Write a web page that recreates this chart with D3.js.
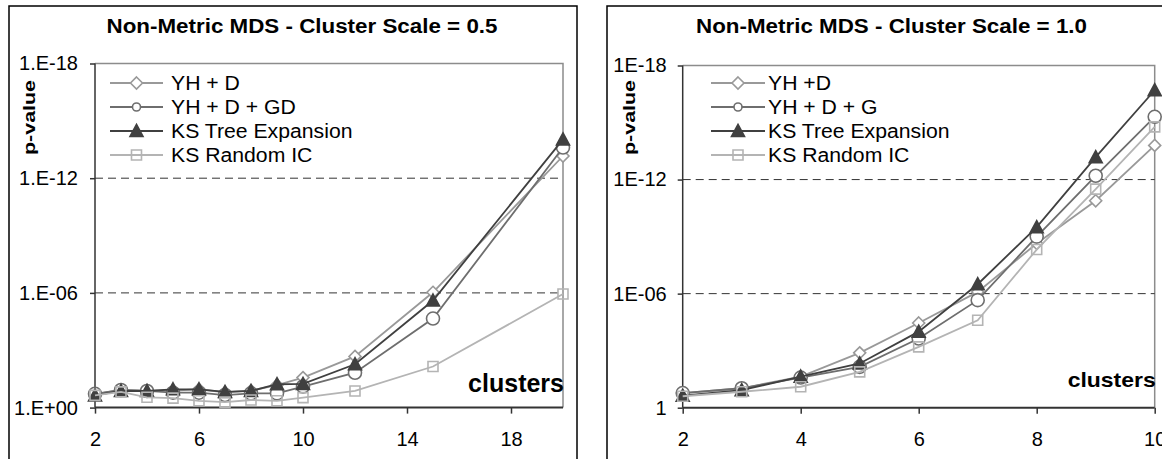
<!DOCTYPE html>
<html>
<head>
<meta charset="utf-8">
<script src="https://cdn.jsdelivr.net/npm/d3@7"></script>
<style>
  body { margin: 0; background: #fff; }
  text { font-family: "Liberation Sans", Arial, sans-serif; fill: #000; }
</style>
</head>
<body>
<svg id="chart"></svg>
<script>
// ---- data (p-values) ----
var leftClusters = [2, 3, 4, 5, 6, 7, 8, 9, 10, 12, 15, 20];
var leftYHD     = [2.0e-1, 1.2e-1, 1.3e-1, 1.3e-1, 1.1e-1, 1.6e-1, 1.3e-1, 6.6e-2, 2.7e-2, 2.1e-3, 9.3e-7, 6.9e-14];
var leftYHDGD   = [1.9e-1, 1.2e-1, 1.35e-1, 1.66e-1, 1.66e-1, 2.2e-1, 1.8e-1, 1.8e-1, 7.9e-2, 1.5e-2, 2.2e-5, 2.5e-14];
var leftKSTree  = [2.3e-1, 1.35e-1, 1.35e-1, 1.1e-1, 1.1e-1, 1.5e-1, 1.35e-1, 6.0e-2, 5.8e-2, 5.4e-3, 2.5e-6, 9.3e-15];
var leftKSRand  = [2.3e-1, 1.5e-1, 2.9e-1, 3.2e-1, 4.4e-1, 5.2e-1, 4.0e-1, 4.4e-1, 3.0e-1, 1.35e-1, 7.1e-3, 1.15e-6];

var rightClusters = [2, 3, 4, 5, 6, 7, 8, 9, 10];
var rightYHD    = [1.7e-1, 9.5e-2, 2.3e-2, 1.3e-3, 3.5e-5, 8.1e-7, 2.3e-9, 1.3e-11, 1.6e-14];
var rightYHDG   = [1.7e-1, 9.5e-2, 2.6e-2, 7.1e-3, 2.3e-4, 2.2e-6, 1.0e-9, 6.3e-13, 5.0e-16];
var rightKSTree = [2.3e-1, 1.2e-1, 2.3e-2, 4.7e-3, 1.0e-4, 3.2e-7, 3.2e-10, 6.6e-14, 2.0e-17];
var rightKSRand = [2.5e-1, 1.45e-1, 7.9e-2, 1.3e-2, 6.3e-4, 2.5e-5, 4.8e-9, 3.2e-12, 1.7e-15];

var leftNames  = ["YH + D", "YH + D + GD", "KS Tree Expansion", "KS Random IC"];
var rightNames = ["YH +D", "YH + D + G", "KS Tree Expansion", "KS Random IC"];
var leftXTicks  = [2, 6, 10, 14, 18];
var rightXTicks = [2, 4, 6, 8, 10];
var yTicks = [1, 1e-6, 1e-12, 1e-18];
var gridTicks = [1e-6, 1e-12];

var seriesColors  = ["#999999", "#6e6e6e", "#404040", "#b4b4b4"];
var seriesMarkers = ["diamond", "circle", "triangle", "square"];

var W = 1162, H = 459;
var svg = d3.select("#chart").attr("width", W).attr("height", H);
svg.append("rect").attr("width", W).attr("height", H).attr("fill", "#fff");

function expLabel(withDot) {
  return function(d) {
    var e = Math.round(Math.log10(d));
    if (!withDot && e === 0) return "1";
    var s = (e < 0 ? "-" : "+") + (Math.abs(e) < 10 ? "0" : "") + Math.abs(e);
    return (withDot ? "1.E" : "1E") + s;
  };
}

// marker drawing, s = half size
function addMarker(sel, type, s, color) {
  if (type === "circle") {
    return sel.append("circle").attr("r", s)
      .attr("fill", "#fff").attr("stroke", color).attr("stroke-width", 1.6);
  }
  var p;
  if (type === "diamond") p = "M0," + (-s) + "L" + s + ",0L0," + s + "L" + (-s) + ",0Z";
  if (type === "triangle") p = "M0," + (-s) + "L" + s + "," + (s * 0.85) + "L" + (-s) + "," + (s * 0.85) + "Z";
  if (type === "square") p = "M" + (-s) + "," + (-s) + "H" + s + "V" + s + "H" + (-s) + "Z";
  return sel.append("path").attr("d", p)
    .attr("fill", type === "triangle" ? color : (type === "square" ? "none" : "#fff"))
    .attr("stroke", color).attr("stroke-width", 1.6);
}

var markerSize = { diamond: 6, circle: 6.5, triangle: 6.5, square: 5 };
var legendSize = { diamond: 6, circle: 4, triangle: 6.5, square: 5 };

function drawPanel(cfg) {
  // outer frame
  svg.append("rect")
    .attr("x", cfg.frameX).attr("y", 6)
    .attr("width", cfg.frameW).attr("height", 480)
    .attr("fill", "none").attr("stroke", "#000").attr("stroke-width", 1.5);

  var x = d3.scaleLinear().domain(cfg.xDomain).range([cfg.l, cfg.r]);
  var y = d3.scaleLog().domain([1, 1e-18]).range([cfg.b, cfg.t]);

  var g = svg.append("g");

  // plot area border (grey top/right)
  g.append("path")
    .attr("d", "M" + cfg.l + "," + cfg.t + "H" + cfg.r + "V" + cfg.b)
    .attr("fill", "none").attr("stroke", "#8c8c8c").attr("stroke-width", 1.5);

  // dashed gridlines
  g.selectAll(".grid").data(gridTicks).enter().append("line")
    .attr("x1", cfg.l).attr("x2", cfg.r)
    .attr("y1", function(d) { return y(d); }).attr("y2", function(d) { return y(d); })
    .attr("stroke", "#333").attr("stroke-width", 1).attr("stroke-dasharray", "8,5");

  // axes
  var yAxis = d3.axisLeft(y).tickValues(yTicks).tickFormat(expLabel(cfg.dotFmt))
    .tickSize(5).tickPadding(cfg.yPad);
  g.append("g").attr("transform", "translate(" + cfg.l + ",0)").call(yAxis)
    .call(function(a) {
      a.select(".domain").remove();
      a.selectAll("line").attr("stroke", "#333").attr("stroke-width", 1.5);
      a.selectAll("text").attr("font-size", 20).attr("font-family", null);
    });
  var xAxis = d3.axisBottom(x).tickValues(cfg.xTicks).tickSize(6).tickPadding(18.5);
  g.append("g").attr("transform", "translate(0," + cfg.b + ")").call(xAxis)
    .call(function(a) {
      a.select(".domain").remove();
      a.selectAll("line").attr("stroke", "#333").attr("stroke-width", 1.5);
      a.selectAll("text").attr("font-size", 20).attr("font-family", null);
    });
  g.append("line").attr("x1", cfg.l).attr("x2", cfg.l).attr("y1", cfg.t).attr("y2", cfg.b)
    .attr("stroke", "#333").attr("stroke-width", 1.5);
  g.append("line").attr("x1", cfg.l).attr("x2", cfg.r).attr("y1", cfg.b).attr("y2", cfg.b)
    .attr("stroke", "#333").attr("stroke-width", 2);

  // series
  var line = d3.line().x(function(d) { return x(d[0]); }).y(function(d) { return y(d[1]); });
  cfg.series.forEach(function(vals, i) {
    var pts = cfg.xs.map(function(c, k) { return [c, vals[k]]; });
    var color = seriesColors[i];
    g.append("path").datum(pts).attr("d", line)
      .attr("fill", "none").attr("stroke", color).attr("stroke-width", 1.8);
    pts.forEach(function(p) {
      var m = g.append("g").attr("transform", "translate(" + x(p[0]) + "," + y(p[1]) + ")");
      addMarker(m, seriesMarkers[i], markerSize[seriesMarkers[i]], color);
    });
  });

  // legend
  cfg.names.forEach(function(name, i) {
    var ly = 83 + i * 24;
    var color = seriesColors[i];
    g.append("line").attr("x1", cfg.legX0).attr("x2", cfg.legX1).attr("y1", ly).attr("y2", ly)
      .attr("stroke", color).attr("stroke-width", 1.8);
    var m = g.append("g").attr("transform", "translate(" + ((cfg.legX0 + cfg.legX1) / 2) + "," + ly + ")");
    addMarker(m, seriesMarkers[i], legendSize[seriesMarkers[i]], color);
    var t = g.append("text").attr("x", cfg.legText).attr("y", ly + 7)
      .attr("font-size", 20).text(name);
    var len = t.node().getComputedTextLength();
    t.attr("textLength", len * 1.06).attr("lengthAdjust", "spacingAndGlyphs");
  });

  // title
  svg.append("text").attr("x", cfg.titleX).attr("y", 33)
    .attr("text-anchor", "middle").attr("font-size", 20).attr("font-weight", "bold")
    .attr("textLength", 391).attr("lengthAdjust", "spacingAndGlyphs")
    .text(cfg.title);

  // y axis title
  svg.append("text")
    .attr("transform", "translate(" + cfg.pvalX + ",117.5) rotate(-90)")
    .attr("text-anchor", "middle").attr("font-size", 16).attr("font-weight", "bold")
    .attr("textLength", 75).attr("lengthAdjust", "spacingAndGlyphs")
    .text("p-value");

  // x axis title
  var ct = svg.append("text").attr("x", cfg.r + 1).attr("y", cfg.clY)
    .attr("text-anchor", "end").attr("font-size", cfg.clSize).attr("font-weight", "bold")
    .text("clusters");
  if (cfg.clLen) ct.attr("textLength", cfg.clLen).attr("lengthAdjust", "spacingAndGlyphs");
}

drawPanel({
  frameX: 9, frameW: 568,
  l: 95, r: 563, t: 63.5, b: 407.6,
  xDomain: [2, 20], xTicks: leftXTicks, xs: leftClusters,
  series: [leftYHD, leftYHDGD, leftKSTree, leftKSRand],
  names: leftNames, dotFmt: true, yPad: 12,
  legX0: 110, legX1: 163, legText: 171,
  title: "Non-Metric MDS - Cluster Scale = 0.5", titleX: 302,
  pvalX: 34.5, clY: 392, clSize: 25, clLen: null
});

drawPanel({
  frameX: 607, frameW: 600,
  l: 682.7, r: 1154.7, t: 65.5, b: 407.7,
  xDomain: [2, 10], xTicks: rightXTicks, xs: rightClusters,
  series: [rightYHD, rightYHDG, rightKSTree, rightKSRand],
  names: rightNames, dotFmt: false, yPad: 11,
  legX0: 711, legX1: 765, legText: 768,
  title: "Non-Metric MDS - Cluster Scale = 1.0", titleX: 891.5,
  pvalX: 634.5, clY: 387, clSize: 21, clLen: 88
});
</script>
</body>
</html>
